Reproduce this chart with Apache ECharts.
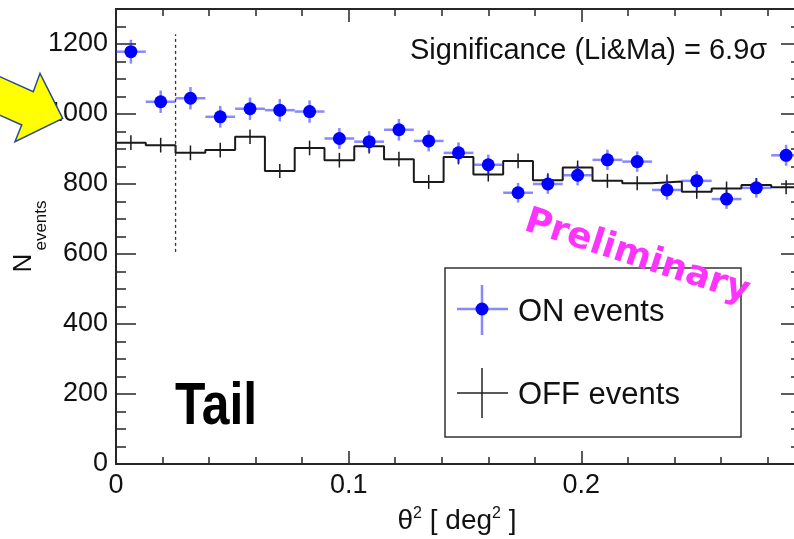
<!DOCTYPE html>
<html>
<head>
<meta charset="utf-8">
<script src="https://cdn.jsdelivr.net/npm/echarts@6/dist/echarts.min.js"></script>
<style>
  html, body { margin: 0; padding: 0; background: #ffffff; }
  #chart { width: 794px; height: 539px; }
</style>
</head>
<body>
<div id="chart"></div>
<script>
// theta^2 histogram binning (deg^2): 23 bins
const binEdges = [0, 0.0128, 0.0256, 0.0384, 0.0512, 0.064, 0.0768, 0.0896, 0.1024,
  0.1152, 0.128, 0.1408, 0.1536, 0.1664, 0.1792, 0.192, 0.2048, 0.2176, 0.2304,
  0.2432, 0.256, 0.2688, 0.2816, 0.2944];

// ON-source event counts per bin and their errors
const onCounts = [1178, 1035, 1045, 992, 1015, 1011, 1007, 930, 921, 955, 923, 889,
  855, 775, 800, 825, 869, 864, 783, 809, 757, 789, 882];
const onErrors = [34, 32, 32, 31, 32, 32, 32, 30, 30, 31, 30, 30,
  29, 28, 28, 29, 29, 29, 28, 28, 28, 28, 30];

// OFF (background) event counts per bin and their errors
const offCounts = [918, 911, 889, 897, 935, 837, 903, 868, 908, 871, 806, 877,
  827, 866, 811, 847, 809, 802, 807, 778, 787, 797, 791];
const offErrors = [21, 21, 21, 21, 21, 20, 21, 21, 21, 21, 20, 21,
  20, 21, 20, 20, 20, 20, 20, 20, 20, 20, 20];

// theta^2 cut and its vertical extent
const cutLine = [[0.0256, 606], [0.0256, 1228]];

const xTickLabels = ['0', '0.1', '0.2'];
const yTickLabels = ['0', '200', '400', '600', '800', '1000', '1200'];

const FONT = 'Liberation Sans';
const FRAME = '#262626';

const centers = onCounts.map((_, i) => (binEdges[i] + binEdges[i + 1]) / 2);
const onData = onCounts.map((v, i) => [centers[i], v, onErrors[i], binEdges[i], binEdges[i + 1]]);
const offErrData = offCounts.map((v, i) => [centers[i], v, offErrors[i]]);
const offStep = offCounts.map((v, i) => [binEdges[i], v]);
offStep.push([binEdges[binEdges.length - 1], offCounts[offCounts.length - 1]]);

const X_MIN = 0, X_MAX = binEdges[binEdges.length - 1];
const Y_MIN = 0, Y_MAX = 1300;

function xAxisDef(position, interval, tickLen, withLabels, withLine) {
  return {
    type: 'value', position, min: X_MIN, max: X_MAX, interval,
    axisLine: { show: withLine, onZero: false, lineStyle: { color: FRAME, width: 2 } },
    axisTick: { show: true, inside: true, length: tickLen, lineStyle: { color: FRAME, width: 1.5 } },
    splitLine: { show: false },
    axisLabel: {
      show: withLabels, margin: 8, showMaxLabel: false,
      fontFamily: FONT, fontSize: 27, color: '#111',
      formatter: v => {
        const k = Math.round(v / 0.1);
        return (Math.abs(v - k * 0.1) < 1e-9 && k < xTickLabels.length) ? xTickLabels[k] : '';
      }
    }
  };
}

function yAxisDef(position, interval, tickLen, withLabels, withLine) {
  return {
    type: 'value', position, min: Y_MIN, max: Y_MAX, interval,
    axisLine: { show: withLine, onZero: false, lineStyle: { color: FRAME, width: 2 } },
    axisTick: { show: true, inside: true, length: tickLen, lineStyle: { color: FRAME, width: 1.5 } },
    splitLine: { show: false },
    axisLabel: {
      show: withLabels, margin: 8, showMaxLabel: false,
      fontFamily: FONT, fontSize: 27, color: '#111',
      formatter: v => {
        const k = Math.round(v / 200);
        return (Math.abs(v - k * 200) < 1e-9 && k < yTickLabels.length) ? yTickLabels[k] : '';
      }
    }
  };
}

const chart = echarts.init(document.getElementById('chart'), null, { renderer: 'canvas' });

const option = {
  backgroundColor: '#ffffff',
  animation: false,
  grid: { left: 116, top: 9, right: -7, bottom: 75, containLabel: false, outerBoundsMode: 'none' },
  xAxis: [
    xAxisDef('bottom', 0.1, 13, true, true),
    xAxisDef('bottom', 0.02, 7, false, false),
    xAxisDef('top', 0.1, 13, false, true),
    xAxisDef('top', 0.02, 7, false, false)
  ],
  yAxis: [
    yAxisDef('left', 200, 20, true, true),
    yAxisDef('left', 50, 10, false, false),
    yAxisDef('right', 200, 20, false, true),
    yAxisDef('right', 50, 10, false, false)
  ],
  series: [
    {
      name: 'OFF events',
      type: 'line',
      step: 'end',
      data: offStep,
      symbol: 'none',
      lineStyle: { color: '#1a1a1a', width: 2 },
      z: 2
    },
    {
      name: 'OFF errors',
      type: 'custom',
      data: offErrData,
      encode: { x: 0, y: 1 },
      renderItem: (params, api) => {
        const x = api.value(0), y = api.value(1), e = api.value(2);
        const p1 = api.coord([x, y - e]);
        const p2 = api.coord([x, y + e]);
        return {
          type: 'line',
          shape: { x1: p1[0], y1: p1[1], x2: p2[0], y2: p2[1] },
          style: { stroke: '#1a1a1a', lineWidth: 1.5 }
        };
      },
      z: 3
    },
    {
      name: 'cut',
      type: 'line',
      data: cutLine,
      symbol: 'none',
      lineStyle: { color: '#333', width: 1.3, type: [3, 3] },
      z: 3
    },
    {
      name: 'ON errors',
      type: 'custom',
      data: onData,
      encode: { x: 0, y: 1 },
      renderItem: (params, api) => {
        const x = api.value(0), y = api.value(1), e = api.value(2);
        const lo = api.value(3), hi = api.value(4);
        const a = api.coord([lo, y]), b = api.coord([hi, y]);
        const c = api.coord([x, y - e]), d = api.coord([x, y + e]);
        const st = { stroke: 'rgba(40,40,255,0.55)', lineWidth: 2.5 };
        return {
          type: 'group',
          children: [
            { type: 'line', shape: { x1: a[0], y1: a[1], x2: b[0], y2: b[1] }, style: st },
            { type: 'line', shape: { x1: c[0], y1: c[1], x2: d[0], y2: d[1] }, style: st }
          ]
        };
      },
      z: 4
    },
    {
      name: 'ON events',
      type: 'scatter',
      data: onData.map(d => [d[0], d[1]]),
      symbol: 'circle',
      symbolSize: 13,
      itemStyle: { color: '#0000ff', opacity: 1 },
      z: 5
    }
  ],
  graphic: [
    // pointer arrow at the left edge
    {
      type: 'polygon', z: 100,
      shape: { points: [[-12, 71.3], [33.3, 91.7], [40, 73.3], [62.7, 118.3], [15, 141.7], [21.7, 125], [-12, 109.8]] },
      style: { fill: '#ffff00', stroke: '#2b4a8c', lineWidth: 1.5 }
    },
    {
      type: 'text', z: 100, x: 410, y: 51,
      style: { text: 'Significance (Li&Ma) = 6.9σ', fontFamily: FONT, fontSize: 29, fill: '#111',
        align: 'left', verticalAlign: 'middle' }
    },
    {
      type: 'text', z: 100, x: 175, y: 407, scaleX: 0.83,
      style: { text: 'Tail', fontFamily: FONT, fontWeight: 'bold', fontSize: 60, fill: '#000',
        align: 'left', verticalAlign: 'middle' }
    },
    // legend box
    {
      type: 'rect', z: 100,
      shape: { x: 445, y: 268, width: 296, height: 169 },
      style: { fill: '#ffffff', stroke: '#333', lineWidth: 1.5 }
    },
    {
      type: 'line', z: 101, shape: { x1: 457, y1: 309, x2: 508, y2: 309 },
      style: { stroke: 'rgba(40,40,255,0.55)', lineWidth: 2.5 }
    },
    {
      type: 'line', z: 101, shape: { x1: 482, y1: 285, x2: 482, y2: 335 },
      style: { stroke: 'rgba(40,40,255,0.55)', lineWidth: 2.5 }
    },
    {
      type: 'circle', z: 102, shape: { cx: 482, cy: 309, r: 6.5 },
      style: { fill: '#0000ff' }
    },
    {
      type: 'text', z: 101, x: 518, y: 312,
      style: { text: 'ON events', fontFamily: FONT, fontSize: 31, fill: '#111',
        align: 'left', verticalAlign: 'middle' }
    },
    {
      type: 'line', z: 101, shape: { x1: 457, y1: 393, x2: 508, y2: 393 },
      style: { stroke: '#222', lineWidth: 1.5 }
    },
    {
      type: 'line', z: 101, shape: { x1: 482, y1: 368, x2: 482, y2: 418 },
      style: { stroke: '#222', lineWidth: 1.5 }
    },
    {
      type: 'text', z: 101, x: 518, y: 395,
      style: { text: 'OFF events', fontFamily: FONT, fontSize: 31, fill: '#111',
        align: 'left', verticalAlign: 'middle' }
    },
    {
      type: 'text', z: 110, x: 637, y: 257, rotation: -18 * Math.PI / 180,
      style: { text: 'Preliminary', fontFamily: 'DejaVu Sans', fontWeight: 'bold', fontSize: 36,
        fill: '#ff33ff', align: 'center', verticalAlign: 'middle' }
    },
    // y-axis title N_events
    {
      type: 'text', z: 100, x: 24, y: 263, rotation: Math.PI / 2,
      style: { text: 'N', fontFamily: FONT, fontSize: 26, fill: '#111', align: 'center', verticalAlign: 'middle' }
    },
    {
      type: 'text', z: 100, x: 41.5, y: 225.5, rotation: Math.PI / 2,
      style: { text: 'events', fontFamily: FONT, fontSize: 17, fill: '#111', align: 'center', verticalAlign: 'middle' }
    },
    // x-axis title
    {
      type: 'text', z: 100, x: 457, y: 521,
      style: {
        text: '{a|θ}{b|2}{a| [ deg}{b|2}{a| ]}',
        align: 'center', verticalAlign: 'middle',
        rich: {
          a: { fontFamily: FONT, fontSize: 28, fill: '#111', verticalAlign: 'middle', lineHeight: 30 },
          b: { fontFamily: FONT, fontSize: 16, fill: '#111', verticalAlign: 'top', lineHeight: 16 }
        }
      }
    }
  ]
};

chart.setOption(option);
</script>
</body>
</html>
